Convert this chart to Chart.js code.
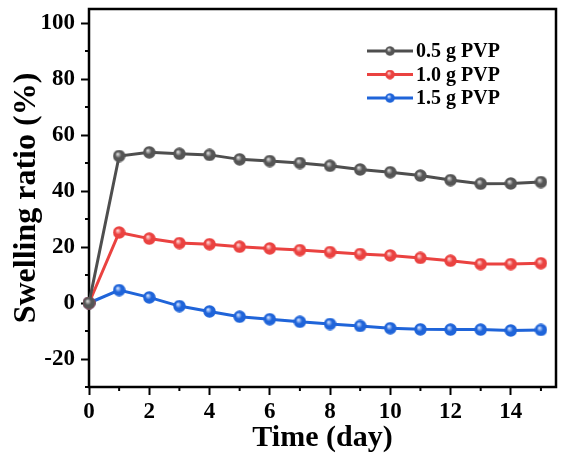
<!DOCTYPE html>
<html>
<head>
<meta charset="utf-8">
<script src="https://cdn.jsdelivr.net/npm/chart.js@4.4.1/dist/chart.umd.min.js"></script>
<style>
  html, body { margin: 0; padding: 0; background: #fff; }
  #wrap { width: 565px; height: 461px; }
</style>
</head>
<body>
<div id="wrap"><canvas id="c-swelling"></canvas></div>
<script>
const days = [0, 1, 2, 3, 4, 5, 6, 7, 8, 9, 10, 11, 12, 13, 14, 15];
const pvp05 = [0, 52.5, 53.8, 53.3, 52.9, 51.3, 50.7, 50.0, 49.0, 47.7, 46.7, 45.5, 43.9, 42.6, 42.7, 43.2];
const pvp10 = [0, 25.2, 23.0, 21.4, 21.0, 20.1, 19.5, 18.9, 18.2, 17.5, 17.0, 16.1, 15.1, 13.9, 13.9, 14.2];
const pvp15 = [0, 4.6, 2.0, -1.1, -3.0, -4.9, -5.8, -6.7, -7.5, -8.2, -9.0, -9.4, -9.5, -9.5, -9.8, -9.6];
const seriesNames = ["0.5 g PVP", "1.0 g PVP", "1.5 g PVP"];
const xTicks = [0, 2, 4, 6, 8, 10, 12, 14];
const xMinor = [1, 3, 5, 7, 9, 11, 13, 15];
const yTicks = [-20, 0, 20, 40, 60, 80, 100];
const yMinor = [-30, -10, 10, 30, 50, 70, 90];

const SERIF = "'Liberation Serif', 'Times New Roman', serif";

// shaded ball used as the point marker
function makeBall(base, light) {
  const size = 13;
  const cv = document.createElement("canvas");
  cv.width = size;
  cv.height = size;
  const ctx = cv.getContext("2d");
  const g = ctx.createRadialGradient(size * 0.38, size * 0.35, 0.5, size / 2, size / 2, size / 2);
  g.addColorStop(0, light);
  g.addColorStop(0.45, base);
  g.addColorStop(1, base);
  ctx.fillStyle = g;
  ctx.beginPath();
  ctx.arc(size / 2, size / 2, size / 2 - 0.3, 0, Math.PI * 2);
  ctx.fill();
  return cv;
}

const colors = ["#4e4e4e", "#ea4240", "#1f64d9"];
const balls = [
  makeBall("#555555", "#d8d8d8"),
  makeBall("#ea4240", "#ffd0d0"),
  makeBall("#1f64d9", "#c8dcff")
];

function toPoints(values) {
  return values.map((v, i) => ({ x: days[i], y: v }));
}

const frameAndTicks = {
  id: "frameAndTicks",
  beforeDatasetsDraw(chart) {
    const { ctx, chartArea: a, scales } = chart;
    ctx.save();
    ctx.strokeStyle = "#000";
    ctx.lineWidth = 2;
    ctx.beginPath();
    xMinor.forEach((v) => {
      const x = scales.x.getPixelForValue(v);
      ctx.moveTo(x, a.bottom);
      ctx.lineTo(x, a.bottom + 4);
    });
    yMinor.forEach((v) => {
      const y = scales.y.getPixelForValue(v);
      ctx.moveTo(a.left, y);
      ctx.lineTo(a.left - 4, y);
    });
    ctx.stroke();
    ctx.lineWidth = 2.5;
    ctx.strokeRect(a.left, a.top, a.right - a.left, a.bottom - a.top);
    ctx.restore();
  }
};

const lineLegend = {
  id: "lineLegend",
  afterDraw(chart) {
    const { ctx, chartArea: a } = chart;
    const x0 = a.right - 189;
    ctx.save();
    ctx.font = "bold 20px " + SERIF;
    ctx.textBaseline = "middle";
    ctx.fillStyle = "#000";
    chart.data.datasets.forEach((ds, i) => {
      const y = a.top + 42 + i * 23.5;
      ctx.strokeStyle = ds.borderColor;
      ctx.lineWidth = 3;
      ctx.beginPath();
      ctx.moveTo(x0, y);
      ctx.lineTo(x0 + 46, y);
      ctx.stroke();
      ctx.drawImage(balls[i], x0 + 23 - 5, y - 5, 10, 10);
      ctx.fillText(ds.label, x0 + 49, y + 1);
    });
    ctx.restore();
  }
};

new Chart(document.getElementById("c-swelling"), {
  type: "line",
  data: {
    datasets: [pvp05, pvp10, pvp15].map((vals, i) => ({
      label: seriesNames[i],
      data: toPoints(vals),
      borderColor: colors[i],
      backgroundColor: colors[i],
      borderWidth: 3,
      pointStyle: balls[i],
      pointRadius: 6,
      tension: 0,
      clip: false
    }))
  },
  options: {
    responsive: true,
    maintainAspectRatio: false,
    animation: false,
    layout: { padding: { top: 9, right: 5, left: 0, bottom: 0 } },
    plugins: { legend: { display: false }, tooltip: { enabled: false } },
    scales: {
      x: {
        type: "linear",
        min: 0,
        max: 15.5,
        afterFit: (s) => { s.height = 74; s.paddingLeft = 0; s.paddingRight = 0; },
        afterBuildTicks: (s) => { s.ticks = xTicks.map((v) => ({ value: v })); },
        border: { display: false },
        grid: { drawOnChartArea: false, drawTicks: true, tickLength: 8, tickWidth: 2, color: "#000" },
        ticks: { color: "#000", padding: 3, maxRotation: 0, autoSkip: false, font: { family: SERIF, size: 23, weight: "bold" } },
        title: { display: true, text: "Time (day)", color: "#000", padding: { top: 0, bottom: 8 }, font: { family: SERIF, size: 30, weight: "bold", lineHeight: 1 } }
      },
      y: {
        min: -30,
        max: 105,
        afterFit: (s) => { s.width = 89; s.paddingTop = 0; s.paddingBottom = 0; },
        afterBuildTicks: (s) => { s.ticks = yTicks.map((v) => ({ value: v })); },
        border: { display: false },
        grid: { drawOnChartArea: false, drawTicks: true, tickLength: 8, tickWidth: 2, color: "#000" },
        ticks: { color: "#000", padding: 6, autoSkip: false, font: { family: SERIF, size: 23, weight: "bold" } },
        title: { display: true, text: "Swelling ratio (%)", color: "#000", padding: { top: 11, bottom: 0 }, font: { family: SERIF, size: 32, weight: "bold", lineHeight: 1 } }
      }
    }
  },
  plugins: [frameAndTicks, lineLegend]
});
</script>
</body>
</html>
